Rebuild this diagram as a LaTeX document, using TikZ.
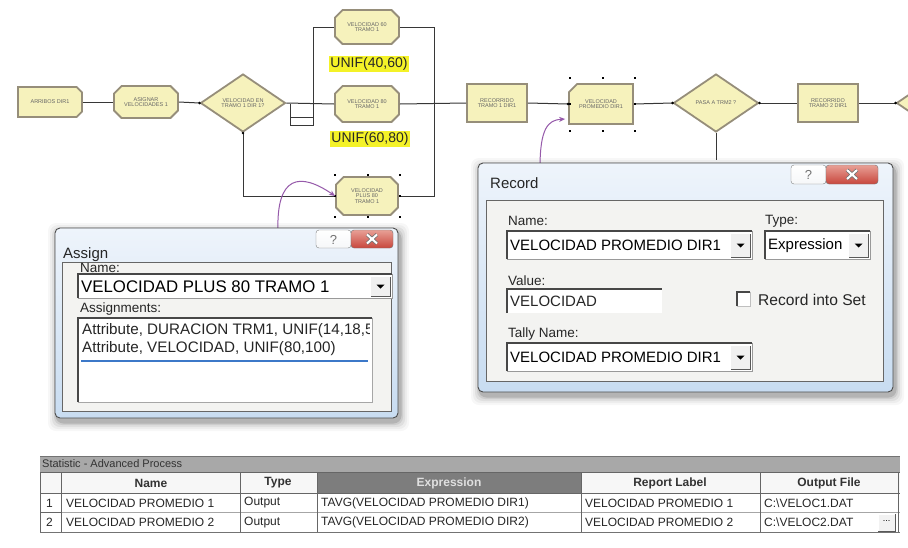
\documentclass[tikz,border=0pt]{standalone}
\usepackage{fontspec}
\setmainfont{Liberation Sans}
\usetikzlibrary{shapes.geometric,shapes.misc,arrows.meta,calc}
\definecolor{nodefill}{RGB}{246,242,188}
\definecolor{nodeedge}{RGB}{150,142,122}
\definecolor{conn}{RGB}{55,55,55}
\definecolor{purp}{RGB}{150,90,170}
\definecolor{winA}{RGB}{238,244,251}
\definecolor{winB}{RGB}{200,220,241}
\definecolor{panel}{RGB}{243,243,241}
\definecolor{uhl}{RGB}{244,242,40}
\definecolor{hdrgray}{RGB}{125,125,125}
\definecolor{titlegray}{RGB}{168,168,168}
\definecolor{closered}{RGB}{200,70,60}
\definecolor{closepink}{RGB}{232,160,150}
\definecolor{ulblue}{RGB}{60,120,200}
\newcommand{\fs}[1]{\fontsize{#1}{#1}\selectfont}
% combo box: x1,y1,x2,y2,text,size,name
\newcommand{\wcombo}[7]{%
  \fill[white] (#1,#2) rectangle (#3,#4);
  \draw[black!40,line width=1pt] (#1,#4) -- (#3,#4) -- (#3,#2);
  \draw[black!72,line width=1.5pt] (#1,#4) -- (#1,#2) -- (#3,#2);
  \node[anchor=west,font=\fs{#6},inner sep=0pt] (#7) at ({#1+3},{(#2+#4)/2+0.5}) {#5};
  \fill[black!6] ({#3-21},{#2+2.5}) rectangle ({#3-2},{#4-2});
  \draw[black!65,line width=1pt] ({#3-21},{#4-2}) -- ({#3-2},{#4-2}) -- ({#3-2},{#2+2.5});
  \fill[black] ({#3-15.5},{(#2+#4)/2-1.5}) -- ({#3-7.5},{(#2+#4)/2-1.5}) -- ({#3-11.5},{(#2+#4)/2+2.5}) -- cycle;
}
% window: x1,y1,x2,y2
\newcommand{\wframe}[4]{%
  \foreach \s/\o in {9/0.03,7/0.04,5/0.06,3/0.08,1.5/0.12}{%
    \fill[black,opacity=\o,rounded corners=8] ({#1-\s+2},{#2-\s+4}) rectangle ({#3+\s+2},{#4+\s+4});}
  \shade[top color=winA,bottom color=winB,rounded corners=5] (#1,#2) rectangle (#3,#4);
  \draw[black!70,rounded corners=5,line width=0.9pt] (#1,#2) rectangle (#3,#4);
}
% help and close buttons: x1,y1,xm,x2,y2
\newcommand{\wbuttons}[5]{%
  \shade[top color=white,bottom color=winB!80!black!10,rounded corners=3] (#1,#2) rectangle (#3,#5);
  \draw[black!50,rounded corners=3] (#1,#2) rectangle (#3,#5);
  \node[font=\fs{13},text=black!55,inner sep=0pt] at ({(#1+#3)/2},{(#2+#5)/2+0.5}) {?};
  \shade[top color=closepink,bottom color=closered,rounded corners=3] (#3,#2) rectangle (#4,#5);
  \draw[black!55,rounded corners=3] (#3,#2) rectangle (#4,#5);
  \draw[black!55,line width=3.6pt] ({(#3+#4)/2-5},{(#2+#5)/2-4.5}) -- ({(#3+#4)/2+5},{(#2+#5)/2+4.5}) ({(#3+#4)/2-5},{(#2+#5)/2+4.5}) -- ({(#3+#4)/2+5},{(#2+#5)/2-4.5});
  \draw[white,line width=2pt] ({(#3+#4)/2-5},{(#2+#5)/2-4.5}) -- ({(#3+#4)/2+5},{(#2+#5)/2+4.5}) ({(#3+#4)/2-5},{(#2+#5)/2+4.5}) -- ({(#3+#4)/2+5},{(#2+#5)/2-4.5});
}
\tikzset{
  mod/.style={draw=nodeedge,line width=1.8pt,fill=nodefill,inner sep=0pt,align=center,
    font=\fs{5.5},text=black!60},
  procbox/.style={mod,rectangle},
  asgbox/.style={mod,chamfered rectangle,chamfered rectangle xsep=4pt},
  createbox/.style={mod,chamfered rectangle,chamfered rectangle xsep=4pt,
    chamfered rectangle corners={north east,south east}},
  recbox/.style={mod,chamfered rectangle,chamfered rectangle xsep=9pt,
    chamfered rectangle corners=north west},
  decbox/.style={mod,diamond,minimum width=85pt,minimum height=58pt},
  conline/.style={draw=conn,line width=1pt},
  dot/.style={circle,fill=black,inner sep=0pt,minimum size=2.8pt},
  hdot/.style={rectangle,fill=black,inner sep=0pt,minimum size=2.8pt},
  unif/.style={fill=uhl,inner sep=1pt,font=\fs{14},text=black!85},
  lbl/.style={anchor=west,inner sep=0pt,text=black!85},
  cell/.style={anchor=west,inner sep=0pt,font=\fs{12},text=black!85},
  hcell/.style={inner sep=0pt,font=\bfseries\fs{12},text=black!80},
  purparrow/.style={draw=purp,line width=1pt,-{Stealth[length=6pt,width=5pt]}}
}
\begin{document}
\begin{tikzpicture}[x=1pt,y=-1pt]
\useasboundingbox (0,0) rectangle (908,547);
\clip (0,0) rectangle (908,547);
\fill[white] (0,0) rectangle (908,547);

% ---------- flowchart ----------
\node[createbox,minimum width=64pt,minimum height=30pt] (arr) at (50,102) {ARRIBOS DIR1};
\node[asgbox,minimum width=64pt,minimum height=32pt] (asg) at (146,102) {ASIGNAR\\VELOCIDADES 1};
\node[decbox] (dec1) at (243,103) {VELOCIDAD EN\\TRAMO 1 DIR 1?};
\node[asgbox,minimum width=64pt,minimum height=34pt] (v60) at (367,27) {VELOCIDAD 60\\TRAMO 1};
\node[unif] (u1) at (369,64) {UNIF(40,60)};
\node[asgbox,minimum width=64pt,minimum height=36pt] (v80) at (367,104) {VELOCIDAD 80\\TRAMO 1};
\node[unif] (u2) at (370,139) {UNIF(60,80)};
\node[asgbox,minimum width=62pt,minimum height=38pt] (vp) at (367,196) {VELOCIDAD\\PLUS 80\\TRAMO 1};
\node[procbox,minimum width=60pt,minimum height=38pt] (r1) at (497,103) {RECORRIDO\\TRAMO 1 DIR1};
\node[recbox,minimum width=64pt,minimum height=40pt] (rp) at (601,104) {VELOCIDAD\\PROMEDIO DIR1};
\node[decbox] (dec2) at (716,103) {PASA A TRM2 ?};
\node[procbox,minimum width=60pt,minimum height=38pt] (r2) at (828,103) {RECORRIDO\\TRAMO 2 DIR1};
\node[decbox] (dec3) at (939,103) {};

\coordinate (jb) at (313,125);
\coordinate (jc) at (290,125);
\coordinate (jd) at (290,104);
\coordinate (je) at (290,117);
\coordinate (jf) at (313,117);
\coordinate (mg) at (434,104);
\coordinate (d2down) at (716,160);

\path[conline] (arr.east) -- (asg.west);
\path[conline] (asg.east) -- (dec1.west);
\path[conline] (dec1.east) -- (v80.west);
\path[conline] (v60.west) -| (jb) -- (jc) -- (jd);
\path[conline] (je) -- (jf);
\path[conline] (dec1.south) |- (vp.west);
\path[conline] (v60.east) -| (mg);
\path[conline] (vp.east) -| (mg);
\path[conline] (v80.east) -- (r1.west);
\path[conline] (r1.east) -- (rp.west);
\path[conline] (rp.east) -- (dec2.west);
\path[conline] (dec2.south) -- (d2down);
\path[conline] (dec2.east) -- (r2.west);
\path[conline] (r2.east) -- (dec3.west);

\node[dot] (p1) at (dec1.west) {};
\node[dot] (p2) at (dec1.south) {};
\node[dot] (p3) at (dec2.west) {};
\node[dot] (p4) at (dec2.east) {};
\node[dot] (p5) at (dec3.west) {};
\node[dot] (p6) at (rp.west) {};

% selection handles
\foreach \x/\y [count=\i] in {335/175,368/175,400/175,335/196,400/196,335/217,368/217,400/217}
  \node[hdot] (hs\i) at (\x,\y) {};
\foreach \x/\y [count=\i] in {570/78,603/78,635/78,570/104,635/104,570/131,603/131,635/131}
  \node[hdot] (hr\i) at (\x,\y) {};

% purple arrows
\coordinate (pa0) at (278,232);
\coordinate (pb0) at (540,168);
\draw[purparrow] (pa0) .. controls (276,175) and (300,172) .. (vp.west);
\draw[purparrow] (pb0) .. controls (540,128) and (548,120) .. ($(rp.west)+(-3,15)$);

% ---------- Assign dialog ----------
\wframe{55}{228}{398}{418}
\node[lbl,font=\fs{15}] (atitle) at (63,255) {Assign};
\wbuttons{316}{230}{351}{393}{248}
\fill[panel] (62,262) rectangle (391,411);
\draw[black!60,line width=1pt] (62,262) rectangle (391,411);
\node[lbl,font=\fs{13.5}] (aname) at (80,268) {Name:};
\wcombo{78}{274}{392}{298}{VELOCIDAD PLUS 80 TRAMO 1}{16.8}{anv}
\node[lbl,font=\fs{13.5}] (aas) at (80,309) {Assignments:};
\fill[white] (78,318) rectangle (372,402);
\draw[black!72,line width=1.5pt] (78,402) -- (78,318) -- (372,318);
\draw[black!35,line width=1pt] (78,402) -- (372,402) -- (372,318);
\begin{scope}
\clip (79,319) rectangle (369,401);
\node[lbl,font=\fs{15.2}] (aa1) at (82,331) {Attribute, DURACION TRM1, UNIF(14,18,5)};
\node[lbl,font=\fs{15.2}] (aa2) at (82,349) {Attribute, VELOCIDAD, UNIF(80,100)};
\end{scope}
\draw[ulblue,line width=1.2pt] (81,361) -- (368,361);

% ---------- Record dialog ----------
\wframe{478}{163}{893}{392}
\node[lbl,font=\fs{15}] (rtitle) at (490,183) {Record};
\wbuttons{791}{165}{826}{878}{184}
\fill[panel] (486,200) rectangle (883,381);
\draw[black!60,line width=1pt] (486,200) rectangle (883,381);
\node[lbl,font=\fs{13.5}] (rname) at (508,221) {Name:};
\node[lbl,font=\fs{13.5}] (rtype) at (765,221) {Type:};
\wcombo{507}{231}{752}{259}{VELOCIDAD PROMEDIO DIR1}{15}{rnv}
\wcombo{765}{231}{870}{259}{Expression}{15}{rtv}
\node[lbl,font=\fs{13.5}] (rval) at (508,281) {Value:};
\fill[white] (507,289) rectangle (662,313);
\draw[black!72,line width=1.5pt] (507,313) -- (507,289) -- (662,289);
\node[lbl,font=\fs{15}] (rvv) at (510,301.5) {VELOCIDAD};
\fill[white] (737,292) rectangle (750,306);
\draw[black!72,line width=1.3pt] (737,306) -- (737,292) -- (750,292);
\draw[black!25,line width=0.8pt] (737,306) -- (750,306) -- (750,292);
\node[lbl,font=\fs{15.6}] (rset) at (758,300) {Record into Set};
\node[lbl,font=\fs{13.5}] (rtally) at (508,334) {Tally Name:};
\wcombo{507}{343}{752}{371}{VELOCIDAD PROMEDIO DIR1}{15}{rtn}

% ---------- Statistic table ----------
\fill[titlegray] (40,456) rectangle (900,472);
\draw[black!55,line width=1pt] (40,456) -- (900,456);
\node[lbl,font=\fs{11},text=black!80] (stt) at (42,464) {Statistic - Advanced Process};
\fill[black!3] (40,472) rectangle (900,493);
\fill[hdrgray] (317,473) rectangle (581,493);
\fill[white] (40,493) rectangle (900,532);
\draw[black!35,line width=0.8pt] (61,512.5) -- (900,512.5);
\draw[black!60,line width=1pt] (40,472) -- (900,472);
\draw[black!60,line width=1pt] (40,493) -- (900,493);
\draw[black!55,line width=1pt] (40,532) -- (900,532);
\foreach \x in {40,61,240,317,581,760,898}
  \draw[black!60,line width=1pt] (\x,472) -- (\x,532);
\draw[black!60,line width=1pt] (40,512.5) -- (61,512.5);
\node[hcell] (hn) at (151,483) {Name};
\node[hcell] (ht) at (278,483) {Type};
\node[hcell,text=black!12] (he) at (449,483) {Expression};
\node[hcell] (hl) at (670,483) {Report Label};
\node[hcell] (ho) at (829,483) {Output File};
\node[cell] (c11) at (46,503) {1};
\node[cell] (c12) at (66,503) {VELOCIDAD PROMEDIO 1};
\node[cell] (c13) at (244,503) {Output};
\node[cell] (c14) at (321,503) {TAVG(VELOCIDAD PROMEDIO DIR1)};
\node[cell] (c15) at (585,503) {VELOCIDAD PROMEDIO 1};
\node[cell] (c16) at (764,503) {C:\textbackslash VELOC1.DAT};
\node[cell] (c21) at (46,522.5) {2};
\node[cell] (c22) at (66,522.5) {VELOCIDAD PROMEDIO 2};
\node[cell] (c23) at (244,522.5) {Output};
\node[cell] (c24) at (321,522.5) {TAVG(VELOCIDAD PROMEDIO DIR2)};
\node[cell] (c25) at (585,522.5) {VELOCIDAD PROMEDIO 2};
\node[cell] (c26) at (764,522.5) {C:\textbackslash VELOC2.DAT};
\fill[black!5] (878,514) rectangle (895,531);
\draw[black!65,line width=1pt] (878,531) -- (895,531) -- (895,514);
\draw[white,line width=1pt] (878,531) -- (878,514) -- (895,514);
\node[inner sep=0pt,font=\fs{9}] (dots) at (886.5,521) {...};
\end{tikzpicture}
\end{document}
